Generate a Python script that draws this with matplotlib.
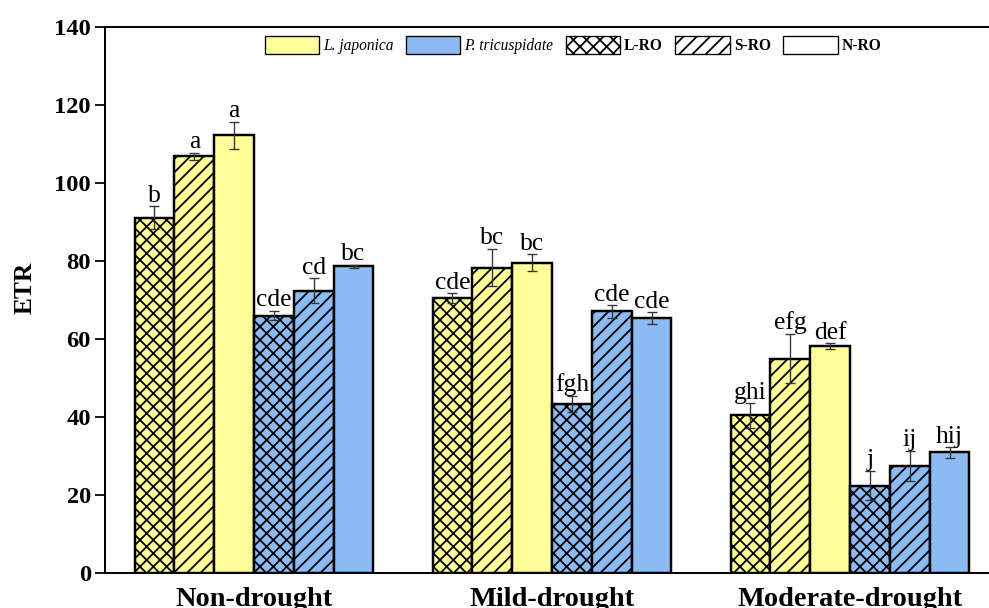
import numpy as np
import matplotlib.pyplot as plt
from matplotlib.patches import Patch

plt.rcParams['font.family'] = ['Liberation Serif', 'DejaVu Serif']
plt.rcParams['hatch.linewidth'] = 1.6

groups = ['Non-drought', 'Mild-drought', 'Moderate-drought']

# L. japonica
lj_lro = [91.1, 70.5, 40.4]
lj_lro_err = [2.9, 1.3, 3.2]
lj_sro = [106.8, 78.3, 55.0]
lj_sro_err = [1.0, 4.8, 6.3]
lj_nro = [112.2, 79.6, 58.2]
lj_nro_err = [3.5, 2.1, 0.7]

# P. tricuspidate
pt_lro = [66.0, 43.4, 22.4]
pt_lro_err = [1.2, 2.0, 3.8]
pt_sro = [72.4, 67.1, 27.4]
pt_sro_err = [3.2, 1.6, 3.9]
pt_nro = [78.6, 65.4, 30.9]
pt_nro_err = [0.5, 1.5, 1.4]

letters_lj_lro = ['b', 'cde', 'ghi']
letters_lj_sro = ['a', 'bc', 'efg']
letters_lj_nro = ['a', 'bc', 'def']
letters_pt_lro = ['cde', 'fgh', 'j']
letters_pt_sro = ['cd', 'cde', 'ij']
letters_pt_nro = ['bc', 'cde', 'hij']

yellow = '#FFFF99'
blue = '#8CBBF4'

series = [
    (lj_lro, lj_lro_err, letters_lj_lro, yellow, 'xx'),
    (lj_sro, lj_sro_err, letters_lj_sro, yellow, '//'),
    (lj_nro, lj_nro_err, letters_lj_nro, yellow, ''),
    (pt_lro, pt_lro_err, letters_pt_lro, blue, 'xx'),
    (pt_sro, pt_sro_err, letters_pt_sro, blue, '//'),
    (pt_nro, pt_nro_err, letters_pt_nro, blue, ''),
]

fig = plt.figure(figsize=(989 / 80, 608 / 80), dpi=80)
ax = fig.add_axes([105 / 989, 35 / 608, 894 / 989, 546 / 608])

x = np.arange(len(groups))
w = 0.1336
for i, (vals, errs, labs, color, hatch) in enumerate(series):
    xs = x + (i - 2.5) * w
    ax.bar(xs, vals, w, color=color, edgecolor='black', linewidth=2.2,
           hatch=hatch, zorder=2)
    ax.errorbar(xs, vals, yerr=errs, fmt='none', ecolor='#333333',
                elinewidth=1.2, capsize=4.5, capthick=1.2, zorder=3)
    for xi, v, e, t in zip(xs, vals, errs, labs):
        ax.annotate(t, (xi, v + e), xytext=(0, 4), textcoords='offset points',
                    ha='center', va='baseline', fontsize=23)

ax.set_xlim(-0.5, 2.5)
ax.set_ylim(0, 140)
ax.set_yticks(range(0, 141, 20))
ax.set_xticks(x)
ax.set_xticklabels(groups, fontsize=25.5, fontweight='bold')
ax.tick_params(axis='x', length=0, pad=13)
ax.tick_params(axis='y', direction='out', length=9, width=1.6, labelsize=22)
for lab in ax.get_yticklabels():
    lab.set_fontweight('bold')
for s in ax.spines.values():
    s.set_linewidth(1.8)
ax.spines['right'].set_visible(False)

ax.set_ylabel('ETR', fontsize=23, fontweight='bold')
ax.yaxis.set_label_coords(-(105 - 25) / 894, (573 - 288) / 546)
ax.yaxis.label.set_va('center')

handles = [
    Patch(facecolor=yellow, edgecolor='black', linewidth=1.2),
    Patch(facecolor=blue, edgecolor='black', linewidth=1.2),
    Patch(facecolor='white', edgecolor='black', linewidth=1.2, hatch='xx'),
    Patch(facecolor='white', edgecolor='black', linewidth=1.2, hatch='//'),
    Patch(facecolor='white', edgecolor='black', linewidth=1.2),
]
names = ['L. japonica', 'P. tricuspidate', 'L-RO', 'S-RO', 'N-RO']
leg = ax.legend(handles, names, ncol=5, frameon=False, fontsize=14,
                loc='center', bbox_to_anchor=((573 - 105) / 894, 1 - 18 / 546),
                handlelength=3.5, handleheight=1.4, handletextpad=0.25,
                columnspacing=0.8)
for t in leg.get_texts()[:2]:
    t.set_fontstyle('italic')
for t in leg.get_texts()[2:]:
    t.set_fontweight('bold')

fig.savefig('out.png', dpi=80)
